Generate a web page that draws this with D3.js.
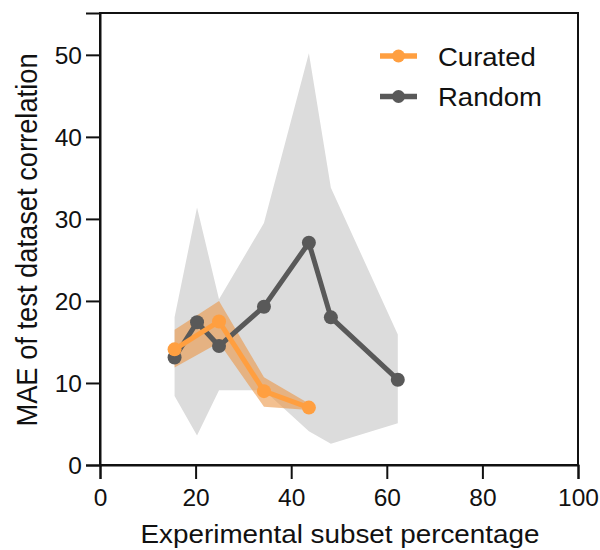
<!DOCTYPE html>
<html><head><meta charset="utf-8">
<script src="https://cdn.jsdelivr.net/npm/d3@7"></script>
<style>body{margin:0;background:#fff}svg{display:block}text{font-family:"Liberation Sans",Arial,sans-serif}</style>
</head><body><svg id="c" width="600" height="550"></svg>
<script>
const randomX = [15.6, 20.3, 24.9, 34.3, 43.7, 48.3, 62.3];
const randomY = [13.1, 17.4, 14.5, 19.3, 27.1, 18.0, 10.4];
const randomUpper = [18.0, 31.4, 20.2, 29.5, 50.2, 33.8, 15.9];
const randomLower = [8.4, 3.6, 9.1, 9.1, 4.1, 2.6, 5.1];
const curatedX = [15.6, 24.9, 34.3, 43.7];
const curatedY = [14.1, 17.5, 9.0, 7.0];
const curatedUpper = [16.5, 20.0, 10.7, 7.5];
const curatedLower = [11.9, 14.9, 7.1, 6.7];
const xTicks = [0, 20, 40, 60, 80, 100];
const yTicks = [0, 10, 20, 30, 40, 50];
const seriesNames = ["Curated", "Random"];

const svg = d3.select("#c");
const L = 100, R = 578, T = 13, B = 465;
const x = d3.scaleLinear().domain([0, 100]).range([L, R]);
const y = d3.scaleLinear().domain([0, 55.1]).range([B, T]);

const orange = "#FF9F40", gray = "#595959", ink = "#111";

const area = d3.area().x(d => x(d[0])).y0(d => y(d[1])).y1(d => y(d[2]));
const line = d3.line().x(d => x(d[0])).y(d => y(d[1]));

const rBand = randomX.map((v, i) => [v, randomLower[i], randomUpper[i]]);
const cBand = curatedX.map((v, i) => [v, curatedLower[i], curatedUpper[i]]);
const rPts = randomX.map((v, i) => [v, randomY[i]]);
const cPts = curatedX.map((v, i) => [v, curatedY[i]]);

svg.append("path").attr("d", area(rBand)).attr("fill", "#DCDCDC");
svg.append("path").attr("d", area(cBand)).attr("fill", "rgba(235,150,70,0.6)");

function series(pts, col) {
  svg.append("path").attr("d", line(pts)).attr("fill", "none").attr("stroke", col)
    .attr("stroke-width", 5).attr("stroke-linejoin", "round");
  svg.append("g").selectAll("circle").data(pts).join("circle")
    .attr("cx", d => x(d[0])).attr("cy", d => y(d[1])).attr("r", 7).attr("fill", col);
}
series(rPts, gray);
series(cPts, orange);

// frame
svg.append("rect").attr("x", L).attr("y", T).attr("width", R - L).attr("height", B - T)
  .attr("fill", "none").attr("stroke", ink).attr("stroke-width", 2);

const xa = svg.append("g").attr("transform", `translate(0,${B})`)
  .call(d3.axisBottom(x).tickValues(xTicks).tickSize(14).tickPadding(10).tickFormat(d3.format("d")));
const ya = svg.append("g").attr("transform", `translate(${L},0)`)
  .call(d3.axisLeft(y).tickValues(yTicks).tickSize(14).tickPadding(4).tickFormat(d3.format("d")));
[xa, ya].forEach(a => {
  a.select(".domain").attr("stroke", ink).attr("stroke-width", 2);
  a.selectAll(".tick line").attr("stroke", ink).attr("stroke-width", 2);
  a.selectAll(".tick text").attr("fill", ink).style("font-size", "24.5px");
});
ya.selectAll(".tick text").attr("dy", "0.36em");

svg.append("text").attr("transform", "translate(340,543) scale(1.05,1)").attr("text-anchor", "middle")
  .style("font-size", "26.5px").attr("fill", ink).text("Experimental subset percentage");
svg.append("text").attr("transform", "translate(36.5,240) rotate(-90) scale(1,1.06)").attr("text-anchor", "middle")
  .style("font-size", "27.3px").attr("fill", ink).text("MAE of test dataset correlation");

// legend
const legCols = [orange, gray];
seriesNames.forEach((n, i) => {
  const yy = 56 + i * 40.5;
  svg.append("line").attr("x1", 380).attr("x2", 417).attr("y1", yy).attr("y2", yy)
    .attr("stroke", legCols[i]).attr("stroke-width", 5.5);
  svg.append("circle").attr("cx", 398.5).attr("cy", yy).attr("r", 6.5).attr("fill", legCols[i]);
  svg.append("text").attr("transform", `translate(438,${yy + 9.5}) scale(1.1,1)`).style("font-size", "25px")
    .attr("fill", ink).text(n);
});
</script></body></html>
